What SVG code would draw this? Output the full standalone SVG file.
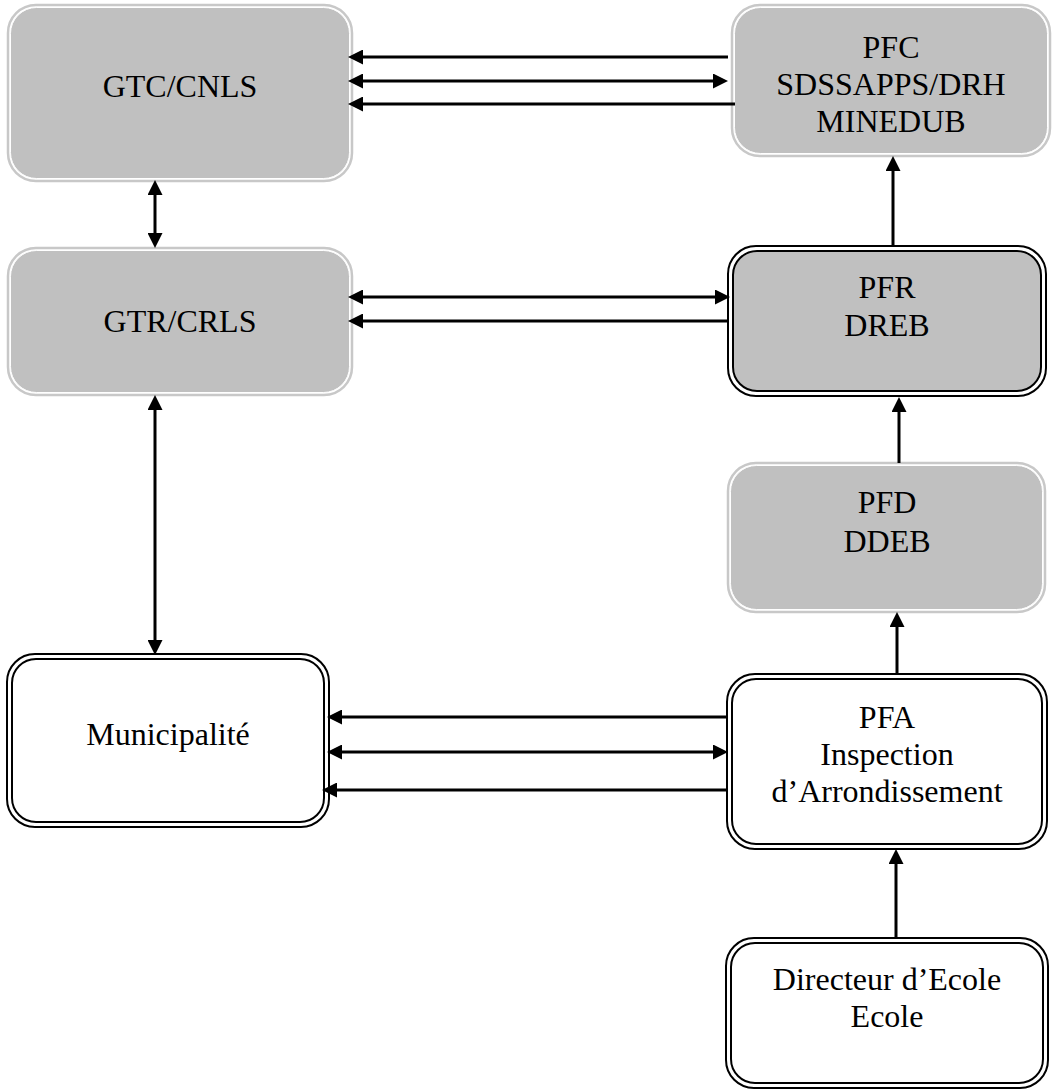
<svg xmlns="http://www.w3.org/2000/svg" width="1052" height="1090" viewBox="0 0 1052 1090">
<defs>
<marker id="ah" viewBox="0 0 15 15" refX="5" refY="7.5" markerWidth="15" markerHeight="15" markerUnits="userSpaceOnUse" orient="auto-start-reverse">
<path d="M0,0 L15,7.5 L0,15 z" fill="#000"/>
</marker>
</defs>
<style>
text{font-family:"Liberation Serif","Times New Roman",serif;font-size:32px;fill:#000;text-anchor:middle}
.go{fill:none;stroke:#c8c8c8;stroke-width:2.5}
.gi{fill:#c0c0c0;stroke:#ffffff;stroke-width:1}
.bo{fill:#fff;stroke:#000;stroke-width:2}
.bi{fill:#fff;stroke:#000;stroke-width:2}
.bg{fill:#c0c0c0;stroke:#000;stroke-width:2}
.c line{stroke:#000;stroke-width:3}
</style>
<rect width="1052" height="1090" fill="#fff"/>
<g id="gtc">
<rect class="go" x="8" y="5" width="344" height="176" rx="28"/>
<rect class="gi" x="10.5" y="7.5" width="339" height="171" rx="26"/>
<text x="180" y="97">GTC/CNLS</text>
</g>
<g id="pfc">
<rect class="go" x="732" y="5" width="318" height="151" rx="28"/>
<rect class="gi" x="734.5" y="7.5" width="313" height="146" rx="26"/>
<text x="891" y="58">PFC</text>
<text x="891" y="95">SDSSAPPS/DRH</text>
<text x="891" y="132">MINEDUB</text>
</g>
<g id="gtr">
<rect class="go" x="8" y="248" width="344" height="147" rx="28"/>
<rect class="gi" x="10.5" y="250.5" width="339" height="142" rx="26"/>
<text x="180" y="332">GTR/CRLS</text>
</g>
<g id="pfr">
<rect class="bo" x="728" y="246" width="318" height="150" rx="28"/>
<rect class="bg" x="733" y="251" width="308" height="140" rx="24"/>
<text x="887" y="298">PFR</text>
<text x="887" y="336">DREB</text>
</g>
<g id="pfd">
<rect class="go" x="728" y="463" width="317" height="149" rx="28"/>
<rect class="gi" x="730.5" y="465.5" width="312" height="144" rx="26"/>
<text x="887" y="513">PFD</text>
<text x="887" y="552">DDEB</text>
</g>
<g id="municipalite">
<rect class="bo" x="7" y="654" width="322" height="173" rx="28"/>
<rect class="bi" x="12" y="659" width="312" height="163" rx="24"/>
<text x="168" y="745">Municipalité</text>
</g>
<g id="pfa">
<rect class="bo" x="727" y="674" width="320" height="175" rx="28"/>
<rect class="bi" x="732" y="679" width="310" height="165" rx="24"/>
<text x="887" y="728">PFA</text>
<text x="887" y="765">Inspection</text>
<text x="887" y="802">d’Arrondissement</text>
</g>
<g id="directeur">
<rect class="bo" x="726" y="938" width="322" height="150" rx="28"/>
<rect class="bi" x="731" y="943" width="312" height="140" rx="24"/>
<text x="887" y="990">Directeur d’Ecole</text>
<text x="887" y="1027">Ecole</text>
</g>
<g id="connectors" class="c">
<line x1="728" y1="57" x2="358" y2="57" marker-end="url(#ah)"/>
<line x1="358" y1="81" x2="718" y2="81" marker-start="url(#ah)" marker-end="url(#ah)"/>
<line x1="735" y1="104" x2="358" y2="104" marker-end="url(#ah)"/>
<line x1="155" y1="190" x2="155" y2="238" marker-start="url(#ah)" marker-end="url(#ah)"/>
<line x1="358" y1="297" x2="720" y2="297" marker-start="url(#ah)" marker-end="url(#ah)"/>
<line x1="728" y1="321" x2="358" y2="321" marker-end="url(#ah)"/>
<line x1="155" y1="405" x2="155" y2="645" marker-start="url(#ah)" marker-end="url(#ah)"/>
<line x1="728" y1="717" x2="337" y2="717" marker-end="url(#ah)"/>
<line x1="337" y1="752" x2="718" y2="752" marker-start="url(#ah)" marker-end="url(#ah)"/>
<line x1="728" y1="790" x2="332" y2="790" marker-end="url(#ah)"/>
<line x1="893" y1="246" x2="893" y2="166" marker-end="url(#ah)"/>
<line x1="899" y1="463" x2="899" y2="407" marker-end="url(#ah)"/>
<line x1="897" y1="674" x2="897" y2="622" marker-end="url(#ah)"/>
<line x1="896" y1="938" x2="896" y2="859" marker-end="url(#ah)"/>
</g>
</svg>
